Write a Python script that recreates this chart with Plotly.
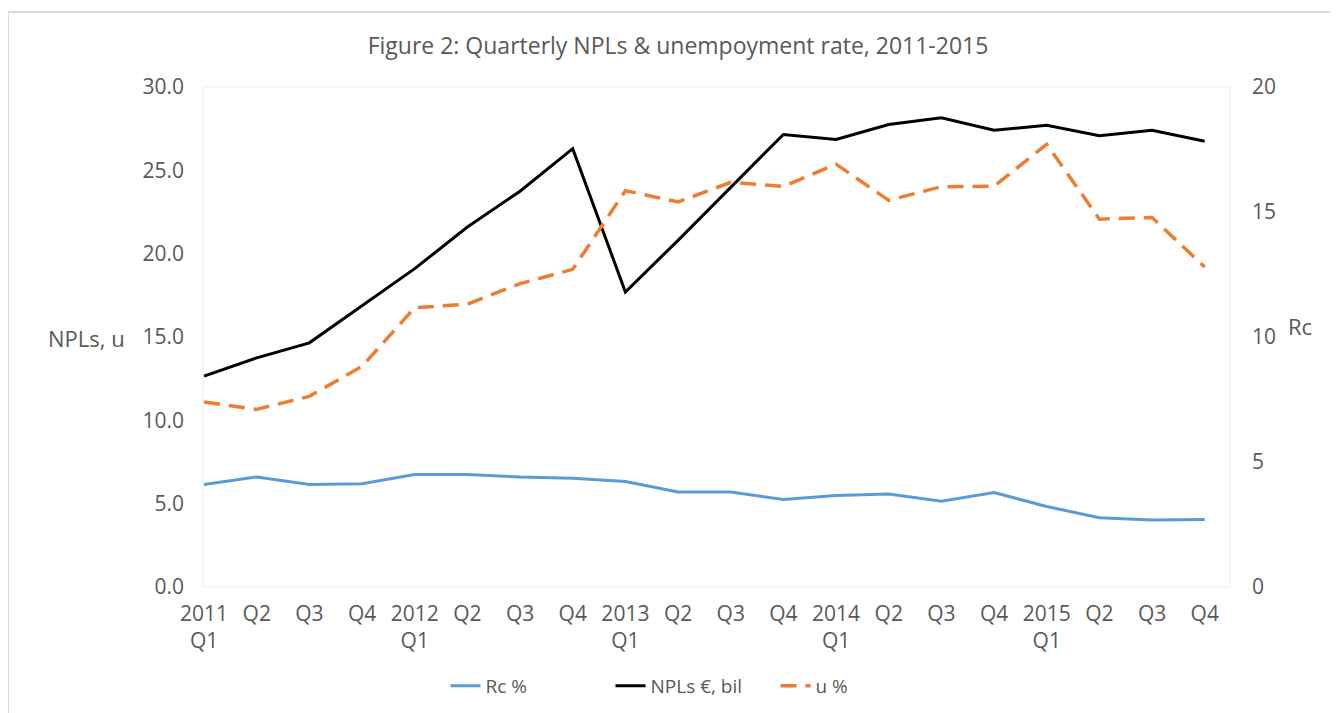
import plotly.graph_objects as go

# ---- data ----
quarters = ["2011 Q1", "2011 Q2", "2011 Q3", "2011 Q4",
            "2012 Q1", "2012 Q2", "2012 Q3", "2012 Q4",
            "2013 Q1", "2013 Q2", "2013 Q3", "2013 Q4",
            "2014 Q1", "2014 Q2", "2014 Q3", "2014 Q4",
            "2015 Q1", "2015 Q2", "2015 Q3", "2015 Q4"]
tick_labels = ["2011<br>Q1", "Q2", "Q3", "Q4",
               "2012<br>Q1", "Q2", "Q3", "Q4",
               "2013<br>Q1", "Q2", "Q3", "Q4",
               "2014<br>Q1", "Q2", "Q3", "Q4",
               "2015<br>Q1", "Q2", "Q3", "Q4"]
rc_pct = [4.1, 4.4, 4.1, 4.13, 4.5, 4.5, 4.4, 4.35, 4.22, 3.8,
          3.8, 3.5, 3.66, 3.72, 3.43, 3.78, 3.22, 2.77, 2.68, 2.7]
npls_bil = [12.65, 13.75, 14.65, 16.9, 19.1, 21.6, 23.75, 26.3, 17.7, 20.8,
            23.95, 27.15, 26.85, 27.75, 28.15, 27.4, 27.7, 27.08, 27.4, 26.75]
u_pct = [11.1, 10.66, 11.44, 13.24, 16.76, 16.97, 18.2, 19.06, 23.78, 23.1,
         24.28, 24.03, 25.37, 23.2, 24.02, 24.04, 26.57, 22.07, 22.17, 19.2]

font_family = "Open Sans, DejaVu Sans, sans-serif"
grey = "#595959"

fig = go.Figure()
fig.add_trace(go.Scatter(x=quarters, y=rc_pct, name="Rc %", mode="lines",
                         line=dict(color="#5B9BD5", width=3), yaxis="y2"))
fig.add_trace(go.Scatter(x=quarters, y=npls_bil, name="NPLs €, bil", mode="lines",
                         line=dict(color="#000000", width=3)))
fig.add_trace(go.Scatter(x=quarters, y=u_pct, name="u %", mode="lines",
                         line=dict(color="#ED7D31", width=3.5, dash="16px,9px")))

# page body has an 8px margin; work in screen pixels and convert
OFF = 8
W, H = 1338 - OFF, 713 - OFF
PL, PR, PT, PB = 203, 1230, 87, 587   # plot area in screen px
L, T = PL - OFF, PT - OFF
R = W - (PR - OFF)
B = H - (PB - OFF)
pw, ph = PR - PL, PB - PT


def px_x(x):
    return (x - PL) / pw


def px_y(y):
    return (PB - y) / ph


fig.update_layout(
    width=W, height=H,
    margin=dict(l=L, r=R, t=T, b=B, autoexpand=False),
    paper_bgcolor="white", plot_bgcolor="white",
    font=dict(family=font_family, size=21, color=grey),
    title=dict(text="Figure 2: Quarterly NPLs & unempoyment rate, 2011-2015",
               x=px_x(678), xanchor="center", xref="paper",
               y=1 - (46 - OFF) / H, yanchor="middle",
               font=dict(family=font_family, size=23, color=grey)),
    xaxis=dict(type="category", range=[-0.02, 19.48],
               tickvals=quarters, ticktext=tick_labels,
               showgrid=False, zeroline=False, showline=False, ticks="",
               ticklabelstandoff=12,
               tickfont=dict(size=21, color=grey)),
    yaxis=dict(range=[0, 30], tickvals=[0, 5, 10, 15, 20, 25, 30],
               tickformat=".1f", showgrid=False, zeroline=False, showline=False,
               ticks="", ticklabelstandoff=18,
               tickfont=dict(size=21, color=grey)),
    yaxis2=dict(range=[0, 20], tickvals=[0, 5, 10, 15, 20], overlaying="y",
                side="right", showgrid=False, zeroline=False, showline=False,
                ticks="", ticklabelstandoff=21,
                tickfont=dict(size=21, color=grey)),
    showlegend=True,
    legend=dict(orientation="h", x=px_x(693), xanchor="center",
                y=px_y(686), yanchor="middle",
                font=dict(size=19, color=grey), bgcolor="rgba(0,0,0,0)",
                entrywidth=120, entrywidthmode="pixels", tracegroupgap=0),
    annotations=[
        dict(text="NPLs, u", xref="paper", yref="paper", x=px_x(86), y=px_y(338),
             xanchor="center", yanchor="middle", showarrow=False,
             font=dict(size=22, color=grey)),
        dict(text="Rc", xref="paper", yref="paper", x=px_x(1300), y=px_y(326),
             xanchor="center", yanchor="middle", showarrow=False,
             font=dict(size=22, color=grey)),
    ],
    shapes=[
        dict(type="rect", xref="paper", yref="paper", x0=0, x1=1, y0=0, y1=1,
             line=dict(color="#EEEEEE", width=1), layer="below"),
        dict(type="rect", xref="paper", yref="paper",
             x0=px_x(8), x1=px_x(1345), y0=px_y(720), y1=px_y(12),
             line=dict(color="#D9D9D9", width=2), layer="below"),
    ],
)

fig.write_html("out.html")
